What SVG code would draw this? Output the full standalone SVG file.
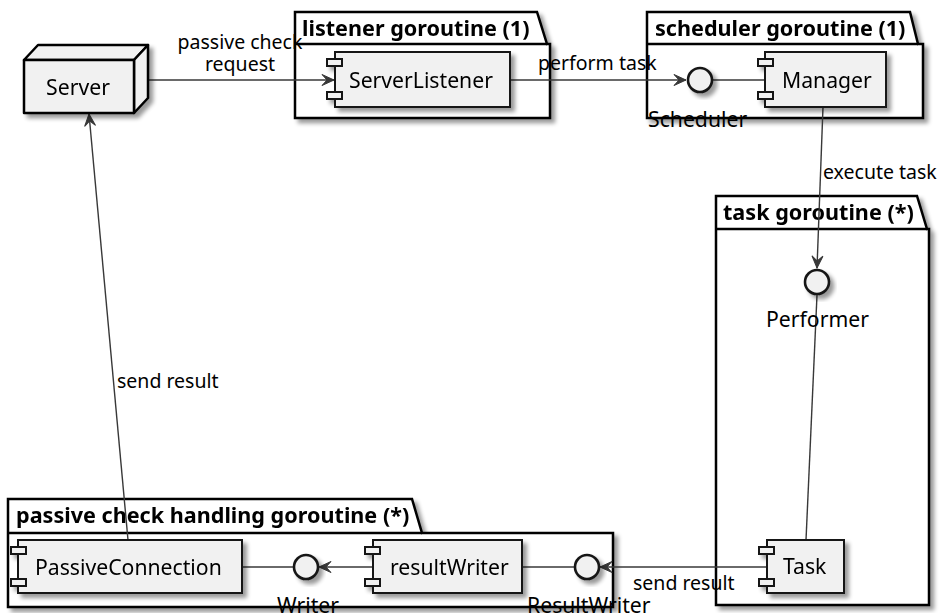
<svg xmlns="http://www.w3.org/2000/svg" width="947" height="613" viewBox="0 0 947 613">
  <style>
    .pkg { fill: #FFFFFF; stroke: #000000; stroke-width: 2.5; }
    .pkg-title { font-family: "Noto Sans", "DejaVu Sans", sans-serif; font-size: 21.6px; font-weight: bold; fill: #000000; }
    .comp { fill: #F1F1F1; stroke: #181818; stroke-width: 2; }
    .node3d { fill: #F1F1F1; stroke: #000000; stroke-width: 2.5; stroke-linejoin: round; }
    .iface { fill: #F1F1F1; stroke: #181818; stroke-width: 2.6; }
    .label { font-family: "Noto Sans", "DejaVu Sans", sans-serif; font-size: 21.2px; fill: #000000; }
    .edge-label { font-family: "Noto Sans", "DejaVu Sans", sans-serif; font-size: 19.5px; fill: #000000; }
    .link { fill: none; stroke: #383838; stroke-width: 1.4; }
    .arrow { marker-end: url(#head); }
  </style>
  <defs>
    <filter id="shadow" x="-20%" y="-20%" width="150%" height="150%">
      <feGaussianBlur in="SourceAlpha" stdDeviation="2.2"/>
      <feOffset dx="4" dy="4" result="off"/>
      <feComponentTransfer><feFuncA type="linear" slope="0.4"/></feComponentTransfer>
      <feMerge><feMergeNode/><feMergeNode in="SourceGraphic"/></feMerge>
    </filter>
    <marker id="head" markerUnits="userSpaceOnUse" viewBox="-13 -7 14 14" refX="0" refY="0" markerWidth="14" markerHeight="14" orient="auto">
      <path d="M0,0 L-12,-5.5 L-7,0 L-12,5.5 Z" fill="#383838" stroke="#383838" stroke-width="1" stroke-linejoin="miter"/>
    </marker>
  </defs>

  <!-- packages -->
  <g id="pkg-listener" filter="url(#shadow)">
    <path class="pkg" d="M295,12 H537 L547,44 H550 V118 H295 Z"/>
    <path class="pkg" d="M295,44 H547"/>
    <text class="pkg-title" x="302" y="36">listener goroutine (1)</text>
  </g>
  <g id="pkg-scheduler" filter="url(#shadow)">
    <path class="pkg" d="M647,12 H910 L918,44 H923 V118 H647 Z"/>
    <path class="pkg" d="M647,44 H918"/>
    <text class="pkg-title" x="655" y="36">scheduler goroutine (1)</text>
  </g>
  <g id="pkg-task" filter="url(#shadow)">
    <path class="pkg" d="M716,196 H917 L927,229 H929 V605 H716 Z"/>
    <path class="pkg" d="M716,229 H927"/>
    <text class="pkg-title" x="723" y="220">task goroutine (*)</text>
  </g>
  <g id="pkg-passive" filter="url(#shadow)">
    <path class="pkg" d="M8,499 H412 L422,533 H613 V607 H8 Z"/>
    <path class="pkg" d="M8,533 H422"/>
    <text class="pkg-title" x="16" y="523">passive check handling goroutine (*)</text>
  </g>

  <!-- connectors -->
  <g id="connectors">
    <path class="link arrow" d="M148,80 H334"/>
    <text class="edge-label" x="240" y="49" text-anchor="middle">passive check</text>
    <text class="edge-label" x="240" y="71" text-anchor="middle">request</text>

    <path class="link arrow" d="M510,80 H686"/>
    <text class="edge-label" x="538" y="70">perform task</text>

    <path class="link" d="M713,80 H765"/>

    <path class="link arrow" d="M823,107 L817,268"/>
    <text class="edge-label" x="823" y="179">execute task</text>

    <path class="link" d="M817,295 L806,540"/>

    <path class="link arrow" d="M767,567 H600"/>
    <text class="edge-label" x="633" y="590">send result</text>

    <path class="link" d="M575,567 H522"/>

    <path class="link arrow" d="M373,567 H319"/>

    <path class="link" d="M242,567 H293"/>

    <path class="link arrow" d="M128,540 L89,114"/>
    <text class="edge-label" x="117" y="388">send result</text>
  </g>

  <!-- nodes -->
  <g id="server" filter="url(#shadow)">
    <path class="node3d" d="M24,60 L38,45 H148 L134,60 Z"/>
    <path class="node3d" d="M134,60 L148,45 V98 L134,113 Z"/>
    <rect class="node3d" x="24" y="60" width="110" height="53"/>
    <text class="label" x="78" y="95" text-anchor="middle">Server</text>
  </g>

  <g id="server-listener" filter="url(#shadow)">
    <rect class="comp" x="335" y="52" width="175" height="55"/>
    <rect class="comp" x="327" y="59" width="15" height="7"/>
    <rect class="comp" x="327" y="92" width="15" height="7"/>
    <text class="label" x="349" y="88">ServerListener</text>
  </g>

  <g id="scheduler" filter="url(#shadow)">
    <circle class="iface" cx="700" cy="80" r="12"/>
  </g>
  <text class="label" x="648" y="127">Scheduler</text>

  <g id="manager" filter="url(#shadow)">
    <rect class="comp" x="765" y="52" width="121" height="55"/>
    <rect class="comp" x="758" y="59" width="15" height="7"/>
    <rect class="comp" x="758" y="92" width="15" height="7"/>
    <text class="label" x="782" y="88">Manager</text>
  </g>

  <g id="performer" filter="url(#shadow)">
    <circle class="iface" cx="817" cy="282" r="12"/>
  </g>
  <text class="label" x="766" y="327">Performer</text>

  <g id="task" filter="url(#shadow)">
    <rect class="comp" x="767" y="540" width="77" height="53"/>
    <rect class="comp" x="759" y="547" width="15" height="7"/>
    <rect class="comp" x="759" y="579" width="15" height="7"/>
    <text class="label" x="783" y="574">Task</text>
  </g>

  <g id="result-writer-iface" filter="url(#shadow)">
    <circle class="iface" cx="587" cy="567" r="12"/>
  </g>
  <text class="label" x="527" y="613">ResultWriter</text>

  <g id="result-writer" filter="url(#shadow)">
    <rect class="comp" x="373" y="540" width="149" height="53"/>
    <rect class="comp" x="365" y="547" width="15" height="7"/>
    <rect class="comp" x="365" y="579" width="15" height="7"/>
    <text class="label" x="390" y="575">resultWriter</text>
  </g>

  <g id="writer" filter="url(#shadow)">
    <circle class="iface" cx="306" cy="567" r="12"/>
  </g>
  <text class="label" x="277" y="613">Writer</text>

  <g id="passive-connection" filter="url(#shadow)">
    <rect class="comp" x="18" y="540" width="224" height="53"/>
    <rect class="comp" x="11" y="547" width="15" height="7"/>
    <rect class="comp" x="11" y="579" width="15" height="7"/>
    <text class="label" x="35" y="575">PassiveConnection</text>
  </g>
</svg>
